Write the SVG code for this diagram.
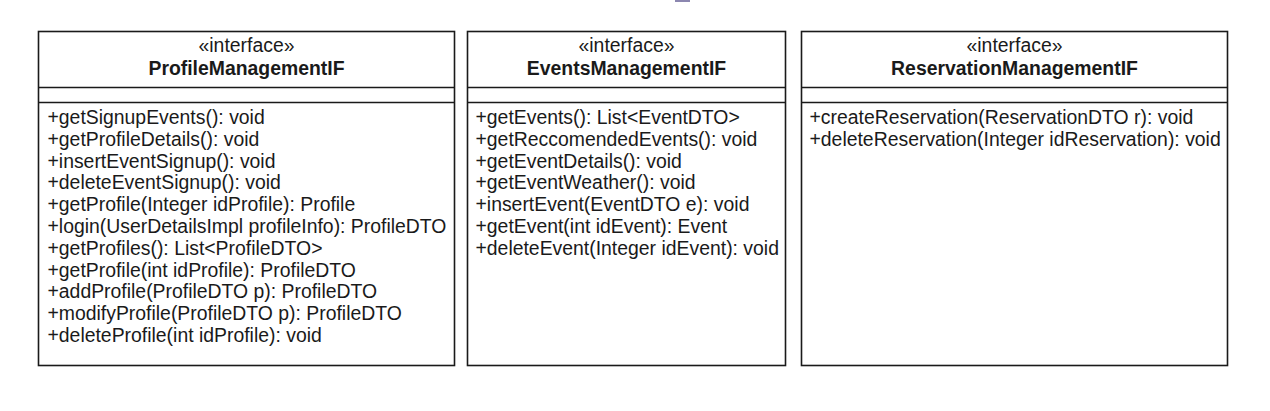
<svg xmlns="http://www.w3.org/2000/svg" width="1270" height="411" viewBox="0 0 1270 411">
<style>
.box{fill:#fff;stroke:#1a1a1a;stroke-width:1.6}
.div{stroke:#1a1a1a;stroke-width:1.6}
text{font-family:"Liberation Sans",Arial,sans-serif;font-size:19.4px;fill:#1a1a1a}
.st{text-anchor:middle}
.nm{text-anchor:middle;font-weight:bold}
</style>
<rect width="1270" height="411" fill="#fff"/>
<rect x="675" y="0" width="15" height="2" fill="#8c87b0"/>
<g id="ProfileManagementIF">
<rect class="box" x="38.5" y="31.5" width="416" height="334"/>
<line class="div" x1="38.5" y1="87.5" x2="454.5" y2="87.5"/>
<line class="div" x1="38.5" y1="102.5" x2="454.5" y2="102.5"/>
<text class="st" x="246.5" y="52">«interface»</text>
<text class="nm" x="246.5" y="75">ProfileManagementIF</text>
<text x="47.5" y="124">+getSignupEvents(): void</text>
<text x="47.5" y="145.8">+getProfileDetails(): void</text>
<text x="47.5" y="167.6">+insertEventSignup(): void</text>
<text x="47.5" y="189.4">+deleteEventSignup(): void</text>
<text x="47.5" y="211.2">+getProfile(Integer idProfile): Profile</text>
<text x="47.5" y="233">+login(UserDetailsImpl profileInfo): ProfileDTO</text>
<text x="47.5" y="254.8">+getProfiles(): List&lt;ProfileDTO&gt;</text>
<text x="47.5" y="276.6">+getProfile(int idProfile): ProfileDTO</text>
<text x="47.5" y="298.4">+addProfile(ProfileDTO p): ProfileDTO</text>
<text x="47.5" y="320.2">+modifyProfile(ProfileDTO p): ProfileDTO</text>
<text x="47.5" y="342">+deleteProfile(int idProfile): void</text>
</g>
<g id="EventsManagementIF">
<rect class="box" x="467.5" y="31.5" width="318" height="334"/>
<line class="div" x1="467.5" y1="87.5" x2="785.5" y2="87.5"/>
<line class="div" x1="467.5" y1="102.5" x2="785.5" y2="102.5"/>
<text class="st" x="626.5" y="52">«interface»</text>
<text class="nm" x="626.5" y="75">EventsManagementIF</text>
<text x="475.5" y="124">+getEvents(): List&lt;EventDTO&gt;</text>
<text x="475.5" y="145.8">+getReccomendedEvents(): void</text>
<text x="475.5" y="167.6">+getEventDetails(): void</text>
<text x="475.5" y="189.4">+getEventWeather(): void</text>
<text x="475.5" y="211.2">+insertEvent(EventDTO e): void</text>
<text x="475.5" y="233">+getEvent(int idEvent): Event</text>
<text x="475.5" y="254.8">+deleteEvent(Integer idEvent): void</text>
</g>
<g id="ReservationManagementIF">
<rect class="box" x="801.5" y="31.5" width="426" height="334"/>
<line class="div" x1="801.5" y1="87.5" x2="1227.5" y2="87.5"/>
<line class="div" x1="801.5" y1="102.5" x2="1227.5" y2="102.5"/>
<text class="st" x="1014.5" y="52">«interface»</text>
<text class="nm" x="1014.5" y="75">ReservationManagementIF</text>
<text x="809.5" y="124">+createReservation(ReservationDTO r): void</text>
<text x="809.5" y="145.8">+deleteReservation(Integer idReservation): void</text>
</g>
<g id="connectors"/>
</svg>
